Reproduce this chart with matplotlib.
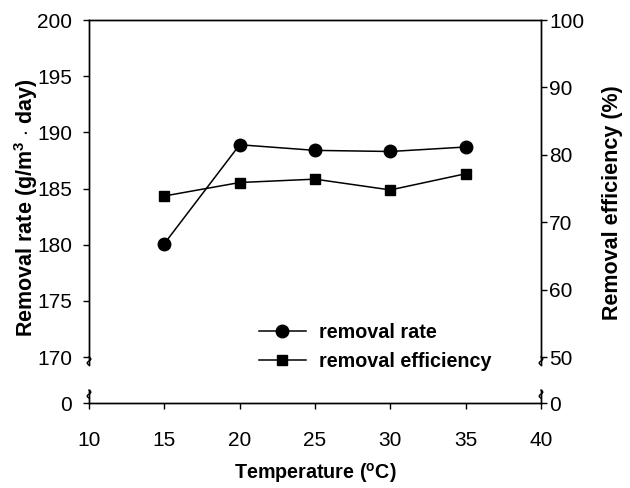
import matplotlib
matplotlib.use("Agg")
import matplotlib.pyplot as plt
import matplotlib.transforms as mtransforms
import numpy as np

plt.rcParams["font.family"] = ["Liberation Sans", "DejaVu Sans"]
plt.rcParams["mathtext.fontset"] = "custom"
plt.rcParams["mathtext.rm"] = "Liberation Sans"
plt.rcParams["mathtext.bf"] = "Liberation Sans:bold"

temperature = [15, 20, 25, 30, 35]
removal_rate = [180.1, 188.9, 188.4, 188.3, 188.7]
removal_eff = [73.9, 75.9, 76.4, 74.8, 77.2]

left_ticks = [170, 175, 180, 185, 190, 195, 200]
right_ticks = [50, 60, 70, 80, 90, 100]
x_ticks = [10, 15, 20, 25, 30, 35, 40]

fig = plt.figure(figsize=(6.3, 4.88), dpi=100)
ax = fig.add_axes([0.1413, 0.252, 0.7174, 0.707])
axb = fig.add_axes([0.1413, 0.174, 0.7174, 0.0266])
ax2 = ax.twinx()
axb2 = axb.twinx()

fs = 15
ylo = 169.3
ax.set_ylim(ylo, 200)
ax2.set_ylim(50 + (ylo - 170) * 50 / 30, 100)
ax.set_xlim(10, 40)
axb.set_xlim(10, 40)
axb.set_ylim(0, 1)
axb2.set_ylim(0, 1)

l1, = ax.plot(temperature, removal_rate, color="black", lw=1.1, marker="o",
              ms=9, label="removal rate")
l2, = ax2.plot(temperature, removal_eff, color="black", lw=1.1, marker="s",
               ms=7.7, label="removal efficiency")

for a in (ax, ax2):
    a.spines["bottom"].set_visible(False)
    a.set_xticks([])
for a in (axb, axb2):
    a.spines["top"].set_visible(False)
    a.set_yticks([0])
    a.patch.set_visible(False)

ax.set_yticks(left_ticks)
ax2.set_yticks(right_ticks)
axb.set_xticks(x_ticks)
for a in (ax, ax2, axb, axb2):
    a.tick_params(direction="out", length=4, width=1, labelsize=fs)
    for s in a.spines.values():
        s.set_linewidth(1)
ax.tick_params(axis="y", pad=8)
axb.tick_params(axis="y", pad=8)
ax2.tick_params(axis="y", pad=2)
axb2.tick_params(axis="y", pad=2)
axb2.tick_params(axis="x", length=0)
axb.tick_params(axis="x", pad=16)

# break marks on the spines
t = np.linspace(-1, 1, 30)
wx = 3 * np.sin(np.pi * t) * 0.6
wy = 4 * t
for a, y0 in ((ax, 0), (axb, 1)):
    for x0 in (0, 1):
        tr = mtransforms.blended_transform_factory(a.transAxes, a.transAxes)
        xs = x0 + wx / (0.7174 * 630)
        h = 0.707 * 488 if a is ax else 0.0266 * 488
        ys = y0 + (wy + (4 if y0 == 0 else -4)) / h
        a.plot(xs, ys, color="black", lw=1, transform=tr, clip_on=False)

ax.set_ylabel(r"Removal rate (g/m$^{\mathbf{3}}$ $\cdot$ day)", fontsize=15.5,
              fontweight="bold")
ax.yaxis.set_label_coords(-0.108, 0.455)
ax2.set_ylabel("Removal efficiency (%)", fontsize=15.5, fontweight="bold",
               rotation=90)
ax2.yaxis.set_label_coords(1.135, 0.47)
axb.set_xlabel(r"Temperature ($\mathbf{^o}$C)", fontsize=14.2,
               fontweight="bold", labelpad=8)

fig.legend(handles=[l1, l2], loc="upper left",
           bbox_to_anchor=(0.411, 0.338), frameon=False,
           prop={"size": 14.2, "weight": "bold"}, handlelength=2.37,
           labelspacing=0.5, handletextpad=0.67, borderpad=0,
           borderaxespad=0)

fig.savefig("out.png", dpi=100)
